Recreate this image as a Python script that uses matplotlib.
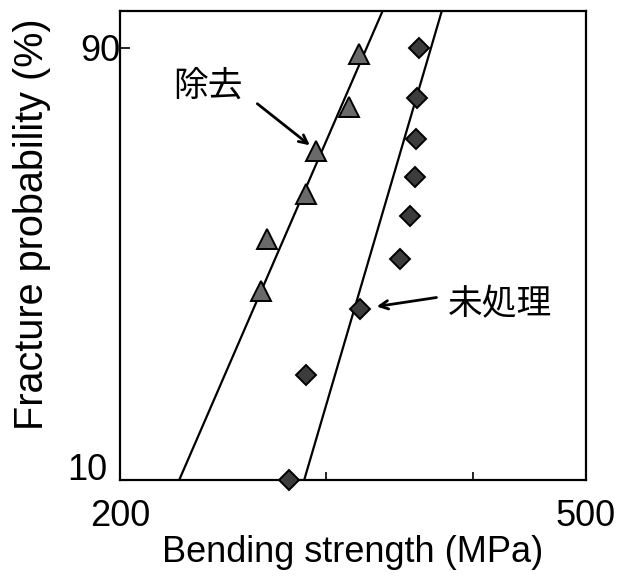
import numpy as np
import matplotlib
matplotlib.use("Agg")
from matplotlib import pyplot as plt
from matplotlib.transforms import ScaledTranslation

# Weibull plot data (fracture probability in %, median ranks i/(n+1))
removed_strength = [263.8, 266.9, 288.5, 294.2, 313.9, 320.0]
removed_prob = [33.3, 44.4, 55.6, 66.7, 77.8, 88.9]
untreated_strength = [278.6, 288.1, 320.5, 346.6, 353.4, 357.0, 357.6, 358.4, 359.8]
untreated_prob = [10, 20, 30, 40, 50, 60, 70, 80, 90]

# fitted Weibull lines: modulus m and scale sigma0 (MPa)
removed_fit = (8.37, 294.0)
untreated_fit = (12.37, 344.6)

x_ticks = [200, 500]
x_tick_labels = ["200", "500"]
y_ticks = [10, 90]
y_tick_labels = ["10", "90"]
label_removed = "除去"
label_untreated = "未処理"

plt.rcParams['font.family'] = ['Liberation Sans', 'DejaVu Sans']


def weibull_fwd(p):
    p = np.clip(np.asarray(p, dtype=float), 1e-6, 100 - 1e-6)
    return np.log(-np.log(1 - p / 100.0))


def weibull_inv(w):
    return 100.0 * (1 - np.exp(-np.exp(np.asarray(w, dtype=float))))


def fit_line(fit, probs):
    m, s0 = fit
    probs = np.asarray(probs) / 100.0
    return s0 * (-np.log(1 - probs)) ** (1.0 / m)


fig = plt.figure(figsize=(6.24, 5.80), dpi=100)
ax = fig.add_axes([120 / 624, 1 - 480 / 580, 466 / 624, 469 / 580])
ax.set_xscale('log')
ax.set_yscale('function', functions=(weibull_fwd, weibull_inv))
ax.set_xlim(200, 500)
ax.set_ylim(10, 95)

line_probs = np.array([10, 95])
ax.plot(fit_line(removed_fit, line_probs), line_probs, color='black', lw=1.6)
ax.plot(fit_line(untreated_fit, line_probs), line_probs, color='black', lw=1.6)

ax.plot(removed_strength, removed_prob, linestyle='none', marker='^', markersize=15,
        markerfacecolor='#6a6a6a', markeredgecolor='black', markeredgewidth=1.4,
        clip_on=False, zorder=3)
ax.plot(untreated_strength, untreated_prob, linestyle='none', marker='D', markersize=10,
        markerfacecolor='#3c3c3c', markeredgecolor='black', markeredgewidth=1.4,
        clip_on=False, zorder=3)

ax.xaxis.set_major_locator(matplotlib.ticker.FixedLocator(x_ticks))
ax.xaxis.set_major_formatter(matplotlib.ticker.FixedFormatter(x_tick_labels))
ax.xaxis.set_minor_locator(matplotlib.ticker.FixedLocator([300, 400]))
ax.xaxis.set_minor_formatter(matplotlib.ticker.NullFormatter())
ax.yaxis.set_major_locator(matplotlib.ticker.FixedLocator(y_ticks))
ax.yaxis.set_major_formatter(matplotlib.ticker.FixedFormatter(y_tick_labels))
ax.yaxis.set_minor_locator(matplotlib.ticker.NullLocator())

ax.tick_params(axis='x', which='major', direction='in', length=0, pad=14, labelsize=26)
ax.tick_params(axis='x', which='minor', direction='in', length=6, width=1.2)
ax.tick_params(axis='y', which='major', direction='in', length=7, width=1.2, pad=0, labelsize=26)

for spine in ax.spines.values():
    spine.set_linewidth(1.6)

ax.set_xlabel("Bending strength (MPa)", fontsize=26)
ax.set_ylabel("Fracture probability (%)", fontsize=28.5)
ax.xaxis.set_label_coords(0.5, -0.118)
ax.yaxis.set_label_coords(-0.148, 0.545)

fig.canvas.draw()
yticks_objs = ax.yaxis.get_major_ticks()
lab10 = yticks_objs[0].label1
lab10.set_verticalalignment('baseline')
lab10.set_transform(lab10.get_transform() + ScaledTranslation(-0.13, 0, fig.dpi_scale_trans))

cjk = ['Noto Sans CJK JP', 'DejaVu Sans']
ax.text(0.189, 0.840, label_removed, transform=ax.transAxes, fontsize=25,
        family=cjk, ha='center', va='center')
ax.annotate('', xy=(0.412, 0.710), xytext=(0.290, 0.806),
            xycoords='axes fraction', textcoords='axes fraction',
            arrowprops=dict(arrowstyle='->,head_length=0.6,head_width=0.3',
                            color='black', lw=2))
ax.text(0.815, 0.373, label_untreated, transform=ax.transAxes, fontsize=25,
        family=cjk, ha='center', va='center')
ax.annotate('', xy=(0.545, 0.369), xytext=(0.685, 0.390),
            xycoords='axes fraction', textcoords='axes fraction',
            arrowprops=dict(arrowstyle='->,head_length=0.6,head_width=0.3',
                            color='black', lw=2))

fig.savefig('out.png', dpi=100)
